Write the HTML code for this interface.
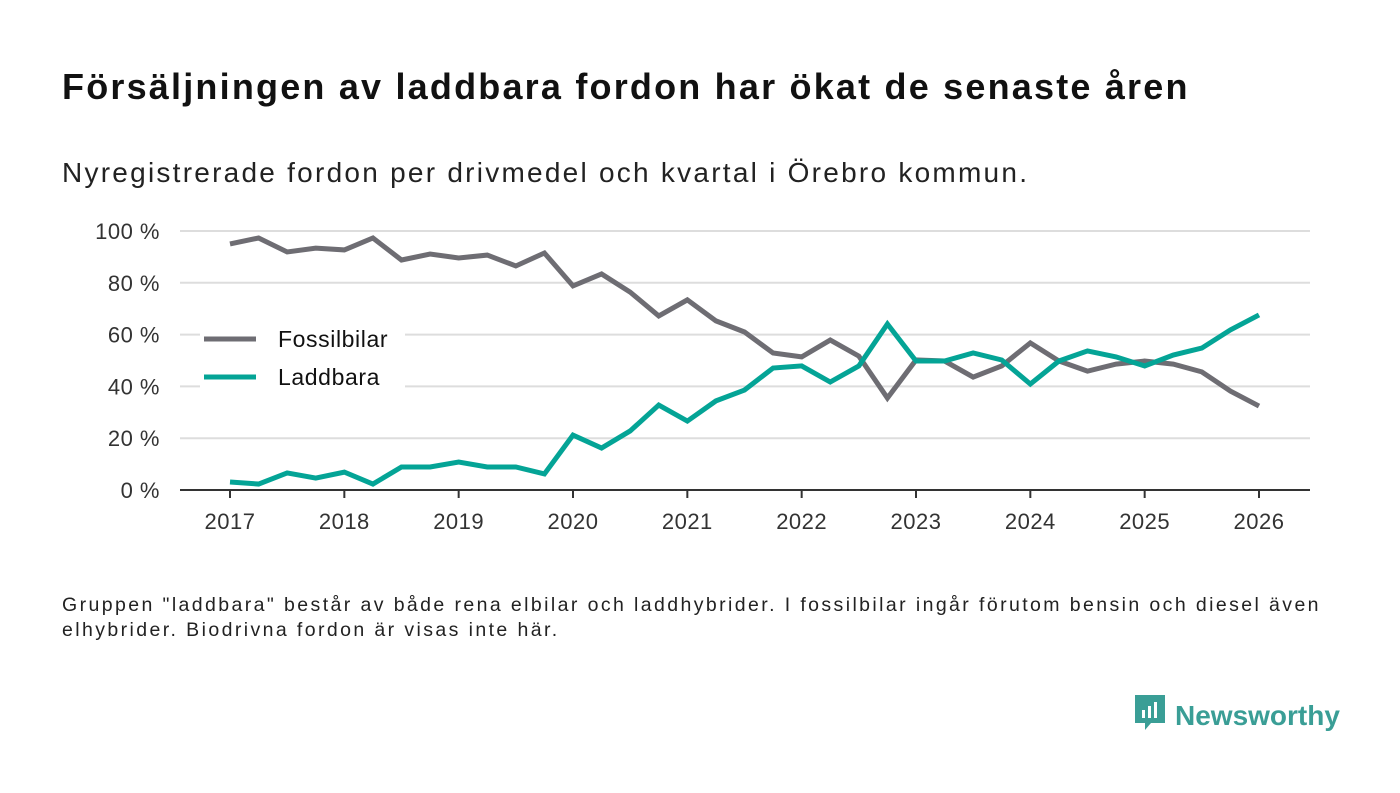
<!DOCTYPE html>
<html><head><meta charset="utf-8"><style>
body{margin:0;background:#fff;font-family:"Liberation Sans",sans-serif;}
#wrap{position:relative;width:1400px;height:793px;overflow:hidden;}
h1{position:absolute;left:62px;top:66px;margin:0;font-size:36px;letter-spacing:2.2px;font-weight:bold;color:#111;white-space:nowrap;}
.sub{position:absolute;left:62px;top:157px;font-size:28px;letter-spacing:2.25px;color:#222;white-space:nowrap;}
.note{position:absolute;left:62px;top:593px;font-size:19.5px;letter-spacing:2.4px;color:#222;line-height:25px;width:1290px;}
.logo{position:absolute;left:1133px;top:693px;font-size:28px;font-weight:bold;color:#3a9e96;}
</style></head><body><div id="wrap">
<h1>Försäljningen av laddbara fordon har ökat de senaste åren</h1>
<div class="sub">Nyregistrerade fordon per drivmedel och kvartal i Örebro kommun.</div>
<svg id="svg" width="1400" height="793" style="position:absolute;left:0;top:0"></svg>
<div class="note">Gruppen "laddbara" består av både rena elbilar och laddhybrider. I fossilbilar ingår förutom bensin och diesel även elhybrider. Biodrivna fordon är visas inte här.</div>
<div class="logo"><svg width="34" height="40" viewBox="0 0 34 40" style="vertical-align:-8px;margin-right:8px"><path d="M2 2h30v28H18l-6 7v-7H2z" fill="#3a9e96"/><rect x="9" y="17" width="3" height="8" fill="#fff"/><rect x="15" y="13" width="3" height="12" fill="#fff"/><rect x="21" y="9" width="3" height="16" fill="#fff"/></svg>Newsworthy</div>
</div>
<script>
const years=[2017,2018,2019,2020,2021,2022,2023,2024,2025,2026];
const yTicks=[0,20,40,60,80,100];
const fossil=[95,97.3,91.9,93.4,92.7,97.3,88.8,91.1,89.6,90.7,86.5,91.5,78.8,83.4,76.4,67.2,73.4,65.3,61,52.9,51.4,57.9,51.7,35.5,50.2,49.8,43.6,47.9,56.8,49.8,45.9,48.6,49.8,48.6,45.6,38.2,32.4];
const laddbara=[3.1,2.3,6.6,4.6,6.9,2.3,8.9,8.9,10.8,8.9,8.9,6.2,21.2,16.2,22.8,32.8,26.6,34.4,38.6,47.1,47.9,41.7,47.9,64.1,49.8,49.8,52.9,50.2,40.9,49.8,53.7,51.4,47.9,52.1,54.8,61.8,67.6];
const svg=document.getElementById('svg');const NS='http://www.w3.org/2000/svg';
const X=t=>230+(1259-230)*(t-2017)/9;
const Y=v=>490-v*2.59;
function el(tag,a){const e=document.createElementNS(NS,tag);for(const k in a)e.setAttribute(k,a[k]);svg.appendChild(e);return e;}
yTicks.forEach(v=>{
 if(v>0){const g=el('line',{x1:180,x2:1310,y1:Y(v),y2:Y(v),stroke:'#ddd','stroke-width':2});
 
 }
 const t=el('text',{x:160,y:Y(v)+8,'text-anchor':'end','font-size':22,'letter-spacing':0.5,fill:'#333','font-family':'Liberation Sans, sans-serif'});t.textContent=v+' %';
 
 
});
const ax=el('line',{x1:180,x2:1310,y1:490,y2:490,stroke:'#333','stroke-width':2});


years.forEach(yr=>{
 const tk=el('line',{x1:X(yr),x2:X(yr),y1:490,y2:498,stroke:'#333','stroke-width':2});
 
 
 const t=el('text',{x:X(yr),y:529,'text-anchor':'middle','font-size':22,'letter-spacing':0.5,fill:'#333','font-family':'Liberation Sans, sans-serif'});t.textContent=yr;
 
 
});
const lb=el('rect',{x:200,y:318,width:205,height:80,fill:'#fff'});


function line(data,color,name){
 const p=el('polyline',{points:data.map((v,i)=>X(2017+i/4)+','+Y(v)).join(' '),fill:'none',stroke:color,'stroke-width':5,'stroke-linejoin':'miter'});
 
 
}
line(fossil,'#6e6d73','line-fossilbilar');
line(laddbara,'#04a496','line-laddbara');
[['Fossilbilar','#6e6d73',339],['Laddbara','#04a496',377]].forEach(([n,c,y])=>{
 const l=el('line',{x1:204,x2:256,y1:y,y2:y,stroke:c,'stroke-width':5});
 
 
 const t=el('text',{x:278,y:y+8,'font-size':23,'letter-spacing':0.6,fill:'#111','font-family':'Liberation Sans, sans-serif'});t.textContent=n;
 
 
});
</script></body></html>
